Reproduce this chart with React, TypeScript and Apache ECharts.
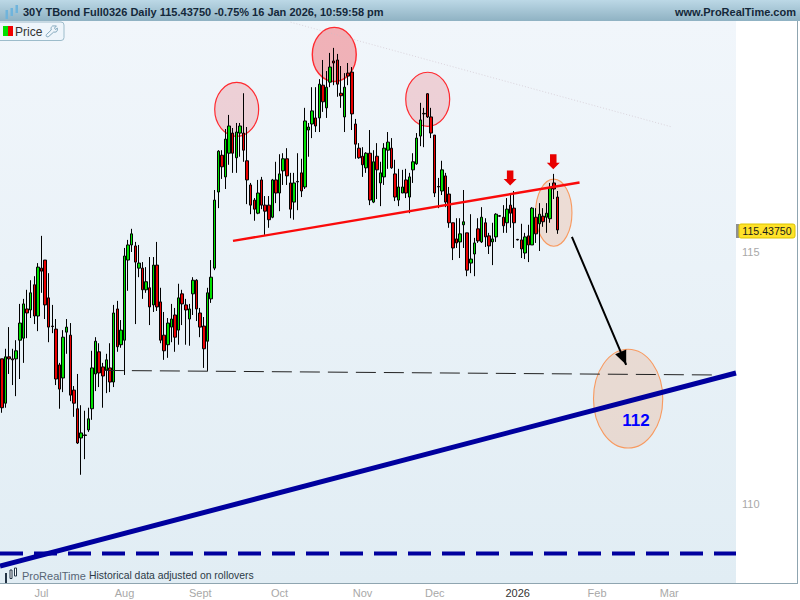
import React, { useEffect, useRef } from "react";
import * as echarts from "echarts";

const FONT = '"Liberation Sans", Arial, sans-serif';

// Daily candles, Jun 2025 to 16 Jan 2026
const opens = [
  112.88, 112.0, 112.92, 112.88, 112.88, 113.25, 113.29, 113.87, 113.85, 114.35,
  113.73, 114.68, 114.84, 114.09, 113.53, 113.47, 112.76, 112.5, 113.41, 113.35,
  112.26, 111.89, 111.31, 111.37, 111.47, 111.89, 112.58, 113.02, 112.72, 112.66,
  112.7, 112.42, 113.87, 113.16, 113.25, 114.84, 115.14, 115.12, 114.68, 114.68,
  114.25, 114.29, 113.95, 114.74, 114.01, 113.35, 113.16, 113.51, 113.75, 113.45,
  114.17, 113.95, 113.67, 114.17, 114.44, 113.79, 113.53, 113.23, 114.07, 114.68,
  116.19, 116.92, 116.49, 116.96, 117.36, 116.87, 117.36, 117.36, 116.81, 116.33,
  116.03, 115.77, 116.43, 115.93, 115.93, 115.69, 116.43, 116.17, 116.61, 116.85,
  116.37, 115.99, 116.4, 116.57, 116.29, 117.42, 117.54, 117.66, 117.66, 118.31,
  117.86, 118.37, 118.79, 118.81, 118.15, 117.68, 118.55, 118.57, 117.54, 117.06,
  116.9, 116.67, 116.96, 115.99, 116.9, 116.37, 116.49, 117.02, 117.06, 116.55,
  116.03, 116.17, 116.43, 116.09, 116.63, 116.75, 117.3, 117.75, 118.14, 117.68,
  117.32, 116.3, 116.21, 116.51, 116.15, 115.58, 115.26, 115.2, 115.54, 115.38,
  114.78, 114.96, 115.46, 115.2, 115.58, 115.32, 115.2, 115.3, 115.72, 115.69,
  115.58, 115.93, 115.87, 115.25, 115.24, 114.98, 115.32, 115.14, 115.69, 115.56,
  115.71, 115.69, 115.66, 116.37, 116.09,
];
const closes = [
  111.91, 112.92, 112.88, 112.86, 113.04, 113.59, 113.97, 113.79, 114.19, 113.73,
  114.7, 114.62, 113.95, 113.51, 113.52, 112.48, 112.28, 113.31, 113.51, 112.16,
  112.0, 111.21, 111.41, 111.36, 111.69, 112.7, 113.23, 112.6, 112.54, 112.86,
  112.42, 113.79, 113.12, 113.45, 114.92, 115.14, 115.36, 114.8, 114.78, 114.25,
  114.41, 113.91, 114.74, 113.91, 113.25, 113.04, 113.59, 113.67, 113.31, 114.09,
  113.97, 113.85, 113.87, 114.44, 113.87, 113.51, 113.08, 114.19, 114.5, 116.03,
  117.0, 116.69, 117.24, 117.5, 116.96, 117.38, 117.5, 117.02, 116.43, 115.93,
  115.85, 116.17, 115.93, 115.81, 115.64, 116.43, 116.17, 116.55, 116.85, 116.51,
  115.85, 116.37, 116.39, 116.21, 117.6, 117.48, 117.8, 117.5, 118.33, 117.98,
  118.27, 118.67, 118.75, 118.33, 118.1, 118.27, 118.49, 117.74, 117.14, 116.87,
  116.73, 116.96, 116.03, 116.79, 116.63, 116.57, 117.06, 117.18, 116.67, 116.09,
  116.29, 116.29, 116.17, 116.49, 116.79, 117.26, 117.62, 117.74, 117.68, 117.36,
  116.17, 116.29, 116.63, 115.99, 115.58, 115.08, 115.18, 115.36, 115.6, 114.64,
  114.86, 115.18, 115.22, 115.69, 115.3, 115.12, 115.26, 115.75, 115.71, 115.52,
  115.85, 115.77, 115.58, 115.24, 115.06, 115.3, 115.14, 115.87, 115.36, 115.75,
  115.6, 115.77, 116.27, 116.25, 115.4375,
];
const lows = [
  111.81, 111.91, 112.58, 112.36, 112.14, 112.48, 112.8, 113.29, 113.69, 113.57,
  113.43, 114.19, 113.67, 113.21, 113.39, 112.36, 111.89, 112.22, 112.98, 112.04,
  111.73, 111.19, 110.58, 110.89, 111.43, 111.67, 112.24, 112.32, 111.91, 112.2,
  112.22, 112.32, 113.02, 113.1, 112.56, 114.23, 115.0, 113.57, 114.5, 114.07,
  114.19, 113.55, 113.81, 113.83, 113.19, 112.86, 112.9, 113.21, 113.02, 113.16,
  113.55, 113.16, 113.14, 113.75, 113.63, 113.31, 112.7, 112.64, 113.99, 114.64,
  115.87, 116.45, 116.25, 116.73, 116.57, 116.57, 116.89, 116.79, 115.95, 115.75,
  115.62, 115.75, 115.85, 115.34, 115.48, 115.67, 115.97, 115.81, 116.33, 116.33,
  115.67, 115.64, 115.83, 116.09, 116.25, 116.89, 117.26, 117.38, 117.38, 117.78,
  117.66, 118.27, 118.31, 118.08, 117.86, 117.38, 118.31, 117.42, 116.85, 116.85,
  116.49, 116.57, 115.93, 115.97, 116.05, 115.91, 116.33, 116.65, 116.65, 116.01,
  115.91, 116.17, 116.07, 115.77, 116.37, 116.73, 117.1, 117.08, 117.66, 117.26,
  116.09, 115.87, 116.13, 115.89, 115.48, 114.84, 115.08, 114.88, 115.08, 114.52,
  114.58, 114.52, 115.18, 115.18, 115.1, 114.96, 114.74, 115.2, 115.7, 115.38,
  115.38, 115.48, 115.08, 115.23, 114.88, 114.86, 114.8, 115.14, 115.18, 115.02,
  115.5, 115.38, 115.58, 116.05, 115.36,
];
const highs = [
  112.88, 113.08, 113.51, 113.08, 113.25, 113.97, 114.07, 114.25, 114.44, 114.52,
  114.78, 115.32, 114.84, 114.58, 113.95, 113.67, 112.8, 113.45, 113.67, 113.59,
  112.34, 112.58, 111.96, 111.85, 111.91, 113.04, 113.31, 113.19, 112.8, 112.98,
  113.19, 113.95, 114.03, 113.65, 115.08, 115.24, 115.46, 115.2, 115.14, 114.8,
  114.7, 114.9, 114.9, 115.2, 114.29, 113.81, 113.69, 113.97, 113.89, 114.37,
  114.25, 114.07, 113.97, 114.5, 114.46, 113.89, 113.71, 114.29, 114.84, 116.23,
  117.02, 117.02, 117.44, 117.72, 117.46, 117.56, 117.56, 118.15, 117.48, 116.37,
  116.07, 116.43, 116.49, 116.11, 116.11, 116.45, 116.79, 116.94, 116.96, 117.06,
  116.57, 116.57, 116.96, 116.85, 117.86, 117.56, 118.27, 118.27, 118.43, 118.81,
  118.59, 118.95, 119.05, 118.93, 118.69, 118.55, 118.75, 118.67, 117.64, 117.16,
  117.08, 116.98, 117.42, 117.02, 117.16, 116.79, 117.16, 117.38, 117.26, 116.83,
  116.65, 116.63, 116.65, 116.57, 116.96, 117.36, 117.96, 117.86, 118.15, 117.86,
  117.32, 116.47, 116.81, 116.57, 116.29, 115.58, 115.67, 115.67, 116.23, 115.38,
  115.75, 115.28, 115.67, 115.89, 115.67, 115.38, 115.58, 115.77, 115.73, 115.93,
  116.07, 116.17, 116.21, 115.26, 115.56, 115.38, 115.54, 115.89, 115.87, 115.97,
  115.87, 115.97, 116.37, 116.55, 116.21,
];

const SLOTS = 204;
const tickIndex = [11, 34, 55, 77, 100, 120, 143, 165, 185];
const tickLabel = ["Jul", "Aug", "Sept", "Oct", "Nov", "Dec", "2026", "Feb", "Mar"];
const priceTicks = [110, 115];
const Y_MIN = 108.4325;
const Y_MAX = 119.5833;

// Annotations, in [slot, price] terms
const redTrend = [[64.08, 115.22], [160.13, 116.38]];
const fadedTrend = [[80.05, 119.56], [185.8, 117.48]];
const supportLevel = [[28.29, 112.65], [197.2, 112.56]];
const blueTrend = [[-0.5, 108.77], [203.5, 112.6]];
const blueLevel = [[-0.5, 109.02], [203.5, 109.02]];
const arrowPath = [[158.02, 115.3], [172.3, 112.89], [173.05, 112.76]];
const redMarks = [[140.9, 116.47], [152.85, 116.79]];
const targetLabel = [[175.8, 111.65]];
// slot, price, half-width in slots, half-height in price
const ellipses = [
  [65.1, 117.83, 6.09, 0.536],
  [92.15, 118.92, 6.09, 0.536],
  [118.05, 118.03, 6.09, 0.536],
  [152.99, 115.78, 5.04, 0.665],
  [173.6, 112.09, 9.6, 0.98],
];
const ellipseFill = [
  "rgba(228,60,70,0.2)",
  "rgba(240,40,50,0.33)",
  "rgba(228,60,70,0.2)",
  "rgba(240,130,70,0.2)",
  "rgba(240,130,70,0.2)",
];
const ellipseStroke = ["#ff2a30", "#ff2a30", "#ff2a30", "#f89a60", "#f89a60"];
const ellipseWidth = [1.2, 1.4, 1.2, 1.1, 1.1];

const headerLeft = "30Y TBond Full0326 Daily 115.43750 -0.75% 16 Jan 2026, 10:59:58 pm";
const headerRight = "www.ProRealTime.com";

let shapesReady = false;
function ensureShapes() {
  if (shapesReady) return;
  shapesReady = true;
  echarts.graphic.registerShape(
    "wrench",
    echarts.graphic.extendPath(
      "M8 1 L12 1 L10 3.2 L11 4.8 L13 3.2 L13 5.4 C13 7 11 8 9.2 7.4 L4 12 C3 13 1 12.4 1.2 11 C1 10.4 1.4 10 2 9.6 L6.6 5.2 C6 3.4 6.6 1.8 8 1 Z",
      {}
    )
  );
}

function bar(x: number, y: number, w: number, h: number, fill: string, stroke?: string) {
  return { type: "rect", z: 50, silent: true, shape: { x, y, width: w, height: h }, style: { fill, stroke, lineWidth: stroke ? 1 : 0 } };
}
function txt(text: string, x: number, y: number, font: string, fill: string, align = "left") {
  return { type: "text", z: 60, silent: true, x, y, style: { text, font, fill, align, verticalAlign: "middle" } };
}

export default function App() {
  const ref = useRef<HTMLDivElement>(null);
  useEffect(() => {
    document.body.style.margin = "0";
    ensureShapes();
    const chart = echarts.init(ref.current!, undefined, { renderer: "svg" });
    const candles = opens.map((o, i) => [o, closes[i], lows[i], highs[i]]);
    const lineSeries = (data: number[][], color: string, width: number, type: any, z = 4) => ({
      type: "line",
      xAxisIndex: 1,
      yAxisIndex: 0,
      data,
      symbol: "none",
      z,
      silent: true,
      lineStyle: { color, width, type },
    });
    chart.setOption({
      animation: false,
      backgroundColor: "#ffffff",
      grid: { left: -1, top: 21, width: 737, height: 562, containLabel: false },
      xAxis: [
        {
          type: "category",
          data: Array.from({ length: SLOTS }, (_, i) => String(i)),
          boundaryGap: true,
          axisLine: { show: false },
          axisTick: { show: false },
          splitLine: { show: false },
          axisLabel: {
            margin: 4,
            fontFamily: FONT,
            fontSize: 11,
            color: "#a8a8a8",
            interval: (i: number) => tickIndex.includes(i),
            formatter: (_: string, i: number) => {
              const k = tickIndex.indexOf(i);
              if (k < 0) return "";
              return tickLabel[k] === "2026" ? `{y|${tickLabel[k]}}` : tickLabel[k];
            },
            rich: { y: { color: "#333333", fontFamily: FONT, fontSize: 11 } },
          },
        },
        { type: "value", min: -0.5, max: SLOTS - 0.5, show: false },
      ],
      yAxis: {
        type: "value",
        position: "right",
        min: Y_MIN,
        max: Y_MAX,
        splitLine: { show: false },
        axisLine: { show: false },
        axisTick: { show: false },
        axisLabel: {
          customValues: priceTicks,
          margin: 6,
          fontFamily: FONT,
          fontSize: 11,
          color: "#a8a8a8",
        },
      },
      graphic: [
        {
          type: "rect",
          z: -5,
          silent: true,
          shape: { x: 0, y: 21, width: 736, height: 562 },
          style: {
            fill: { type: "linear", x: 0, y: 0, x2: 0, y2: 1, colorStops: [{ offset: 0, color: "#f1f6fb" }, { offset: 1, color: "#e1edf4" }] },
          },
        },
        {
          type: "rect",
          z: 50,
          silent: true,
          shape: { x: 0, y: 0, width: 800, height: 21 },
          style: {
            fill: { type: "linear", x: 0, y: 0, x2: 0, y2: 1, colorStops: [{ offset: 0, color: "#bcd8e6" }, { offset: 1, color: "#8fb2c3" }] },
          },
        },
        bar(0, 583, 797, 1, "#8fa5b0"),
        bar(797, 21, 1, 563, "#8fa5b0"),
        bar(5.5, 10, 2.5, 9, "#6fb4dc"),
        bar(10.5, 8, 2.5, 8, "#6fb4dc"),
        bar(15.5, 5, 2.5, 8, "#6fb4dc"),
        txt(headerLeft, 23, 12, `bold 11px ${FONT}`, "#14283a"),
        txt(headerRight, 796, 12, `bold 11px ${FONT}`, "#14283a", "right"),
        {
          type: "rect",
          z: 50,
          silent: true,
          shape: { x: -3, y: 22, width: 67, height: 18.5, r: 3 },
          style: { fill: "#eef5fb", stroke: "#9dbccb", lineWidth: 1 },
        },
        bar(3, 26, 5, 10, "#00e000"),
        bar(8, 26, 5, 10, "#f00000"),
        txt("Price", 15, 31.5, `12px ${FONT}`, "#333333"),
        { type: "wrench", z: 60, silent: true, x: 45, y: 25, scaleX: 0.95, scaleY: 0.95, style: { fill: "none", stroke: "#7fa5ba", lineWidth: 1 } },
        bar(736, 224, 3, 14, "#909090"),
        {
          type: "rect",
          z: 50,
          silent: true,
          shape: { x: 739, y: 224, width: 56, height: 14, r: 2 },
          style: { fill: "#ffe229", stroke: "#dcc400", lineWidth: 1 },
        },
        txt("115.43750", 767, 231, `10.6px ${FONT}`, "#1a1a1a", "center"),
        bar(5, 573, 2, 10, "#223344"),
        bar(10, 570, 2, 8.5, "#ffffff", "#223344"),
        bar(14.5, 568, 2, 8, "#ffffff", "#223344"),
        txt("ProRealTime", 22, 575.5, `11px ${FONT}`, "#566574"),
        txt("Historical data adjusted on rollovers", 89, 575.5, `10.4px ${FONT}`, "#2c3a46"),
      ],
      series: [
        {
          type: "custom",
          xAxisIndex: 1,
          yAxisIndex: 0,
          z: 1,
          silent: true,
          data: ellipses,
          encode: { x: 0, y: 1 },
          renderItem: (params: any, api: any) => {
            const c = api.coord([api.value(0), api.value(1)]);
            const s = api.size([api.value(2), api.value(3)]);
            return {
              type: "ellipse",
              shape: { cx: c[0], cy: c[1], rx: s[0], ry: s[1] },
              style: { fill: ellipseFill[params.dataIndex], stroke: ellipseStroke[params.dataIndex], lineWidth: ellipseWidth[params.dataIndex] },
            };
          },
        },
        {
          type: "candlestick",
          xAxisIndex: 0,
          yAxisIndex: 0,
          z: 2,
          silent: true,
          barWidth: 3,
          data: candles,
          itemStyle: { color: "#00e000", color0: "#e80000", borderColor: "#000000", borderColor0: "#000000", borderWidth: 1 },
        },
        lineSeries(fadedTrend, "rgba(205,190,200,0.6)", 1, [1, 2], 3),
        lineSeries(supportLevel, "#222222", 1, [20, 8]),
        lineSeries(redTrend, "#fa0a0a", 2.4, "solid"),
        lineSeries(blueTrend, "#00009e", 5, "solid"),
        lineSeries(blueLevel, "#00009e", 4, [23, 11]),
        {
          type: "line",
          xAxisIndex: 1,
          yAxisIndex: 0,
          z: 4,
          silent: true,
          lineStyle: { color: "#000000", width: 2 },
          itemStyle: { color: "#000000" },
          data: [
            { value: arrowPath[0], symbol: "none" },
            { value: arrowPath[1], symbol: "triangle", symbolSize: [12, 14], symbolRotate: 203 },
            { value: arrowPath[2], symbol: "none" },
          ],
        },
        {
          type: "scatter",
          xAxisIndex: 1,
          yAxisIndex: 0,
          z: 5,
          silent: true,
          data: redMarks,
          symbol: "path://M3 0 L9 0 L9 8 L12 8 L6 14 L0 8 L3 8 Z",
          symbolSize: [13, 15],
          itemStyle: { color: "#e80000", opacity: 1 },
        },
        {
          type: "scatter",
          xAxisIndex: 1,
          yAxisIndex: 0,
          z: 5,
          silent: true,
          data: targetLabel,
          symbolSize: 0,
          itemStyle: { opacity: 1 },
          label: {
            show: true,
            position: "inside",
            formatter: "112",
            fontFamily: FONT,
            fontWeight: "bold",
            fontSize: 17,
            color: "#0000ff",
            opacity: 1,
          },
        },
      ],
    });
    return () => chart.dispose();
  }, []);
  return <div ref={ref} style={{ position: "fixed", left: 0, top: 0, width: 800, height: 600 }} />;
}
